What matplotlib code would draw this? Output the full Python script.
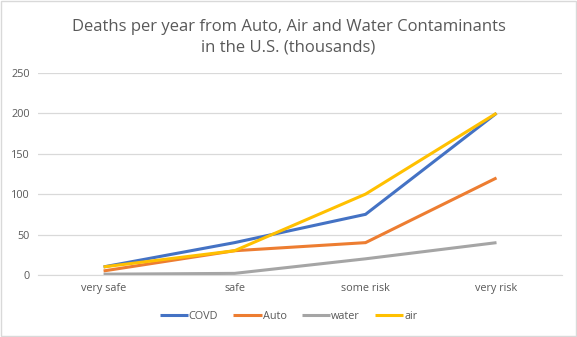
import matplotlib.pyplot as plt
from matplotlib.patches import Rectangle

# ── Data ────────────────────────────────────────────────────────────────────
CATEGORIES = ["very safe", "safe", "some risk", "very risk"]
COVD  = [10, 40, 75, 200]
AUTO  = [5, 30, 40, 120]
WATER = [1, 2, 20, 40]
AIR   = [10, 30, 100, 200]
Y_TICKS = [0, 50, 100, 150, 200, 250]

TITLE = "Deaths per year from Auto, Air and Water Contaminants\nin the U.S. (thousands)"
GREY_TXT = "#595959"

plt.rcParams["font.family"] = ["Open Sans", "DejaVu Sans"]

fig = plt.figure(figsize=(5.77, 3.37), dpi=100)
ax = fig.add_axes([0.066, 0.184, 0.908, 0.600])

series = [("COVD", COVD, "#4472C4"), ("Auto", AUTO, "#ED7D31"),
          ("water", WATER, "#A5A5A5"), ("air", AIR, "#FFC000")]
x = range(len(CATEGORIES))
for name, vals, col in series:
    ax.plot(x, vals, color=col, linewidth=2.2, label=name,
            solid_capstyle="butt", solid_joinstyle="miter")

ax.set_xlim(-0.5, len(CATEGORIES) - 0.5)
ax.set_ylim(0, 250)
ax.set_yticks(Y_TICKS)
ax.set_xticks(list(x))
ax.set_xticklabels(CATEGORIES)
ax.tick_params(axis="both", length=0, labelsize=7.8, labelcolor=GREY_TXT, pad=6)
ax.grid(axis="y", color="#d9d9d9", linewidth=0.9)
ax.set_axisbelow(True)
for side in ("top", "right", "left"):
    ax.spines[side].set_visible(False)
ax.spines["bottom"].set_color("#d9d9d9")

fig.text(0.5, 0.945, TITLE, ha="center", va="top", fontsize=12,
         color=GREY_TXT, linespacing=1.4)

fig.legend(loc="center", bbox_to_anchor=(0.5, 0.062), ncol=4, frameon=False,
           fontsize=7.8, labelcolor=GREY_TXT, handlelength=2.6,
           handletextpad=0.1, columnspacing=1.4)

# chart border
fig.patches.append(Rectangle((0.002, 0.003), 0.996, 0.994, transform=fig.transFigure,
                             fill=False, edgecolor="#d9d9d9", linewidth=1.0))

fig.savefig("out.png", dpi=100)
